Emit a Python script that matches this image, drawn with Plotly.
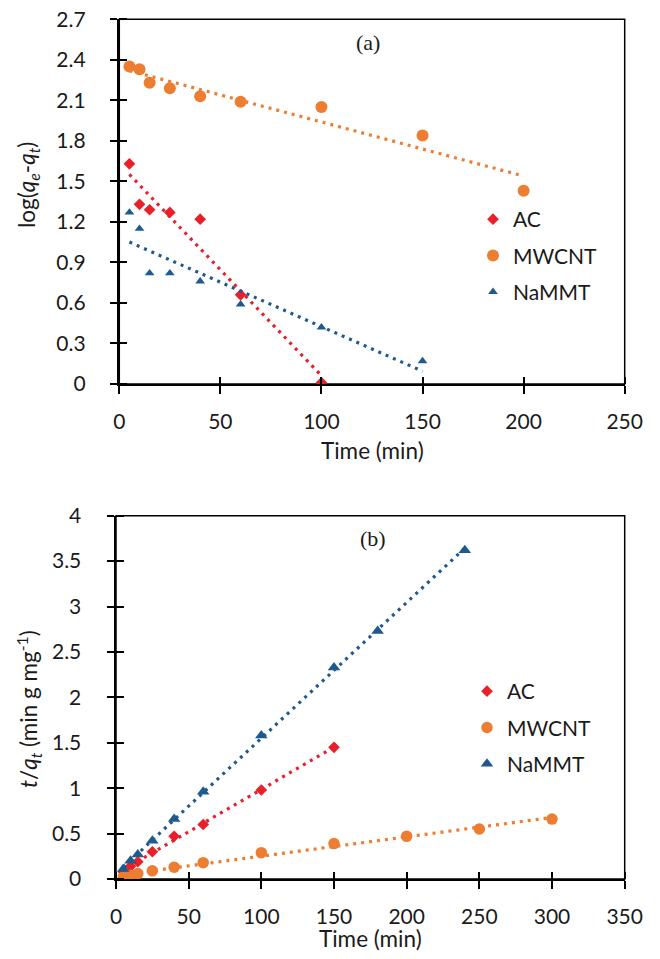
import numpy as np
import plotly.graph_objects as go

# The page body has an 8px margin, so the figure is sized to the remaining
# viewport and every layout pixel position is measured in reference pixels
# minus that offset.
OFF = 8
W, H = 660 - OFF, 959 - OFF

# ---------------- data (a) : pseudo-first-order ----------------
a_time_AC = [5, 10, 15, 25, 40, 60, 100]
a_AC = [1.63, 1.33, 1.29, 1.27, 1.22, 0.66, 0.01]
a_time_MW = [5, 10, 15, 25, 40, 60, 100, 150, 200]
a_MW = [2.35, 2.33, 2.23, 2.19, 2.13, 2.09, 2.05, 1.84, 1.43]
a_time_Na = [5, 10, 15, 25, 40, 60, 100, 150]
a_Na = [1.27, 1.15, 0.82, 0.82, 0.76, 0.59, 0.42, 0.17]

# ---------------- data (b) : pseudo-second-order ----------------
b_time_AC = [5, 10, 15, 25, 40, 60, 100, 150]
b_AC = [0.08, 0.14, 0.19, 0.30, 0.47, 0.60, 0.98, 1.45]
b_time_MW = [5, 10, 15, 25, 40, 60, 100, 150, 200, 250, 300]
b_MW = [0.02, 0.04, 0.06, 0.09, 0.13, 0.18, 0.29, 0.39, 0.47, 0.55, 0.66]
b_time_Na = [5, 10, 15, 25, 40, 60, 100, 150, 180, 240]
b_Na = [0.11, 0.20, 0.27, 0.42, 0.66, 0.96, 1.58, 2.33, 2.73, 3.62]

# tick labels
a_xticks = [0, 50, 100, 150, 200, 250]
a_yticks = [0, 0.3, 0.6, 0.9, 1.2, 1.5, 1.8, 2.1, 2.4, 2.7]
a_yticklabels = ["0", "0.3", "0.6", "0.9", "1.2", "1.5", "1.8", "2.1", "2.4", "2.7"]
b_xticks = [0, 50, 100, 150, 200, 250, 300, 350]
b_yticks = [0, 0.5, 1, 1.5, 2, 2.5, 3, 3.5, 4]
b_yticklabels = ["0", "0.5", "1", "1.5", "2", "2.5", "3", "3.5", "4"]

colors = {"AC": "#E8202A", "MWCNT": "#ED7D31", "NaMMT": "#1F5A8E"}
symbols = {"AC": "diamond", "MWCNT": "circle", "NaMMT": "triangle-up"}

FONT = "Lato"
FS = 21
FST = 22.5
TXT = "#1a1a1a"

fig = go.Figure()


def add_series(xs, ys, name, xa, ya, msize, legend):
    c = colors[name]
    coef = np.polyfit(xs, ys, 1)
    xl = np.array([min(xs), max(xs)], dtype=float)
    fig.add_trace(go.Scatter(
        x=xl, y=np.polyval(coef, xl), mode="lines",
        line=dict(color=c, width=3.2, dash="3px,5px"),
        xaxis=xa, yaxis=ya, showlegend=False, hoverinfo="skip"))
    fig.add_trace(go.Scatter(
        x=xs, y=ys, mode="markers", name=name,
        marker=dict(color=c, symbol=symbols[name], size=msize, line=dict(width=0)),
        xaxis=xa, yaxis=ya, legend=legend, legendgroup=legend + name))


# (a)
add_series(a_time_AC, a_AC, "AC", "x", "y", 9, "legend")
add_series(a_time_MW, a_MW, "MWCNT", "x", "y", 12, "legend")
add_series(a_time_Na, a_Na, "NaMMT", "x", "y", 8.5, "legend")
# (b)
add_series(b_time_AC, b_AC, "AC", "x2", "y2", 9, "legend2")
add_series(b_time_MW, b_MW, "MWCNT", "x2", "y2", 11.5, "legend2")
add_series(b_time_Na, b_Na, "NaMMT", "x2", "y2", 11, "legend2")


def px(x):
    return (x - OFF) / W


def py(y):
    return (H - (y - OFF)) / H


# plot area geometry (reference pixels)
a_x0, a_x1, a_yt, a_yb = 119.3, 624.7, 19.3, 384.0
b_x0, b_x1, b_yt, b_yb = 116.0, 624.7, 515.7, 879.0

a_xdom = [px(a_x0), px(a_x1)]
a_ydom = [py(a_yb), py(a_yt)]
b_xdom = [px(b_x0), px(b_x1)]
b_ydom = [py(b_yb), py(b_yt)]

tickfont = dict(family=FONT, size=FS, color=TXT)


def axis(dom, anchor, rng, tickvals, ticktext=None, standoff=10):
    d = dict(domain=dom, anchor=anchor, range=rng, tickvals=tickvals,
             ticks="outside", ticklen=7.5, tickwidth=2, tickcolor="black",
             showline=True, linewidth=2, linecolor="black",
             showgrid=False, zeroline=False, tickfont=tickfont,
             ticklabelstandoff=standoff, ticklabeloverflow="allow",
             minor=dict(ticks="inside", tickvals=tickvals,
                        ticklen=7.5, tickwidth=2, tickcolor="black", showgrid=False))
    if ticktext is not None:
        d["ticktext"] = ticktext
    return d


def ann(text, x, y, size, family=FONT, angle=0):
    return dict(text=text, xref="paper", yref="paper", x=px(x), y=py(y),
                xanchor="center", yanchor="middle", showarrow=False, textangle=angle,
                font=dict(family=family, size=size, color=TXT))


fig.update_layout(
    width=W, height=H, margin=dict(l=0, r=0, t=0, b=0, autoexpand=False),
    paper_bgcolor="white", plot_bgcolor="white",
    xaxis=axis(a_xdom, "y", [0, 250], a_xticks, standoff=10),
    yaxis=axis(a_ydom, "x", [0, 2.7], a_yticks, a_yticklabels, standoff=20),
    xaxis2=axis(b_xdom, "y2", [0, 350], b_xticks, standoff=10),
    yaxis2=axis(b_ydom, "x2", [0, 4], b_yticks, b_yticklabels, standoff=21),
    legend=dict(x=px(473), y=py(199), xanchor="left", yanchor="top",
                font=dict(family=FONT, size=FS, color=TXT), bgcolor="rgba(0,0,0,0)",
                traceorder="grouped", tracegroupgap=6, itemsizing="trace"),
    legend2=dict(x=px(467), y=py(671), xanchor="left", yanchor="top",
                 font=dict(family=FONT, size=FS, color=TXT), bgcolor="rgba(0,0,0,0)",
                 traceorder="grouped", tracegroupgap=6, itemsizing="trace"),
    shapes=[
        dict(type="rect", xref="x domain", yref="y domain", x0=0, x1=1, y0=0, y1=1,
             line=dict(color="black", width=1.5), layer="below"),
        dict(type="rect", xref="x2 domain", yref="y2 domain", x0=0, x1=1, y0=0, y1=1,
             line=dict(color="black", width=1.5), layer="below"),
    ],
    annotations=[
        ann("(a)", 368, 42, 22, family="Liberation Serif"),
        ann("(b)", 373, 538, 22, family="Liberation Serif"),
        ann("Time (min)", (a_x0 + a_x1) / 2, 450, FST),
        ann("Time (min)", (b_x0 + b_x1) / 2, 938, FST),
        ann("log(<i>q<sub>e</sub></i>-<i>q<sub>t</sub></i>)", 28, 185, FST, angle=-90),
        ann("<i>t</i>/<i>q<sub>t</sub></i> (min g mg<sup>-1</sup>)", 28, 709, FST, angle=-90),
    ],
)

fig.write_html("out.html")
